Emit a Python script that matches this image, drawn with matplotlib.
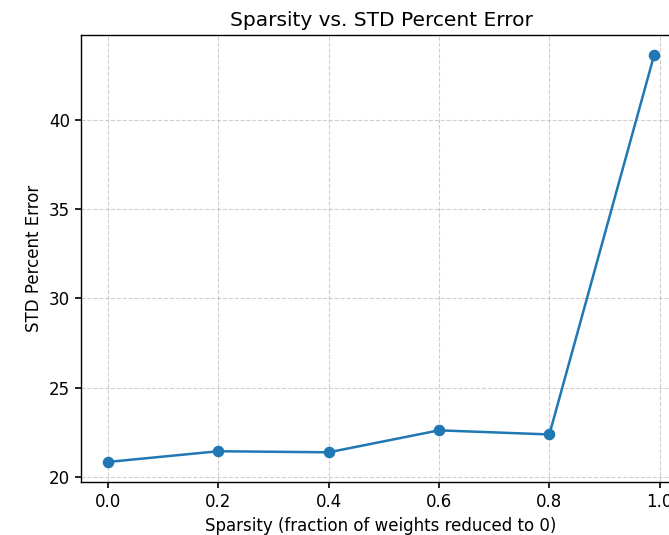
import matplotlib
matplotlib.use("Agg")
import matplotlib.pyplot as plt

sparsity = [0.0, 0.2, 0.4, 0.6, 0.8, 0.99]
std_pct_error = [20.84, 21.44, 21.38, 22.61, 22.38, 43.64]

W, H = 669, 535
fig = plt.figure(figsize=(W / 100, H / 100), dpi=100)
left, right, top, bottom = 80.7, 681.5, 34.5, 482.3
ax = fig.add_axes([left / W, 1 - bottom / H, (right - left) / W, (bottom - top) / H])

ax.plot(sparsity, std_pct_error, marker='o', color='#1f77b4', linewidth=1.8, markersize=7.3)
ax.set_title('Sparsity vs. STD Percent Error', fontsize=14.5)
ax.set_xlabel('Sparsity (fraction of weights reduced to 0)', fontsize=12)
ax.set_ylabel('STD Percent Error', fontsize=12)
ax.tick_params(labelsize=12, width=1.2, length=4.2)
for s in ax.spines.values():
    s.set_linewidth(1.0)
ax.grid(True, linestyle='--', alpha=0.6)

fig.savefig('out.png', dpi=100)
